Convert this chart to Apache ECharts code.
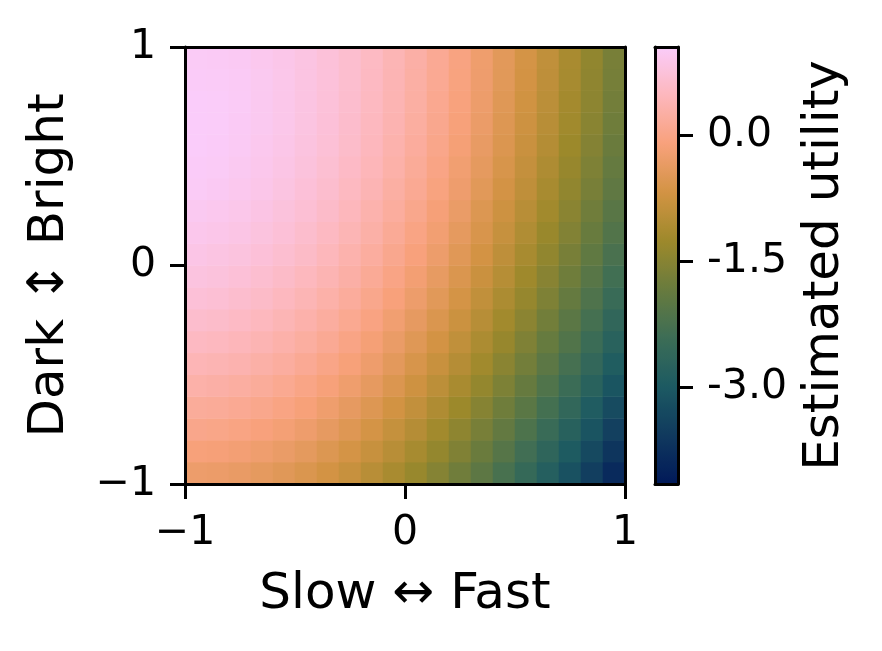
<!DOCTYPE html>
<html>
<head>
<meta charset="utf-8">
<script src="https://cdn.jsdelivr.net/npm/echarts@6/dist/echarts.min.js"></script>
<style>
html,body{margin:0;padding:0;background:#fff;}
#chart{width:882px;height:651px;}
</style>
</head>
<body>
<div id="chart"></div>
<script>
// Cell centres (speed on x, brightness on y)
const xCenters = [-0.95,-0.85,-0.75,-0.65,-0.55,-0.45,-0.35,-0.25,-0.15,-0.05,0.05,0.15,0.25,0.35,0.45,0.55,0.65,0.75,0.85,0.95];
const yCenters = [-0.95,-0.85,-0.75,-0.65,-0.55,-0.45,-0.35,-0.25,-0.15,-0.05,0.05,0.15,0.25,0.35,0.45,0.55,0.65,0.75,0.85,0.95];
// Estimated utility, one row per yCenter (bottom to top), one column per xCenter
const utility = [
  [-0.27,-0.29,-0.33,-0.39,-0.46,-0.56,-0.67,-0.80,-0.96,-1.13,-1.31,-1.52,-1.75,-1.99,-2.26,-2.54,-2.84,-3.16,-3.50,-3.86],
  [-0.11,-0.13,-0.17,-0.23,-0.31,-0.40,-0.52,-0.65,-0.80,-0.97,-1.15,-1.36,-1.58,-1.82,-2.08,-2.36,-2.65,-2.97,-3.30,-3.65],
  [0.04,0.02,-0.03,-0.09,-0.16,-0.26,-0.37,-0.50,-0.65,-0.82,-1.00,-1.20,-1.42,-1.66,-1.91,-2.19,-2.48,-2.78,-3.11,-3.45],
  [0.18,0.16,0.11,0.05,-0.03,-0.12,-0.24,-0.37,-0.51,-0.68,-0.86,-1.06,-1.27,-1.51,-1.76,-2.02,-2.31,-2.61,-2.93,-3.26],
  [0.31,0.28,0.24,0.18,0.10,0.00,-0.11,-0.24,-0.38,-0.55,-0.72,-0.92,-1.13,-1.36,-1.61,-1.87,-2.15,-2.44,-2.76,-3.08],
  [0.43,0.40,0.36,0.29,0.22,0.12,0.01,-0.12,-0.26,-0.42,-0.60,-0.79,-1.00,-1.22,-1.47,-1.72,-2.00,-2.29,-2.59,-2.92],
  [0.54,0.51,0.46,0.40,0.32,0.23,0.12,-0.01,-0.15,-0.31,-0.48,-0.67,-0.88,-1.10,-1.33,-1.59,-1.86,-2.14,-2.44,-2.76],
  [0.64,0.61,0.56,0.50,0.42,0.33,0.22,0.10,-0.04,-0.20,-0.37,-0.56,-0.76,-0.98,-1.21,-1.46,-1.73,-2.01,-2.30,-2.62],
  [0.73,0.70,0.65,0.59,0.51,0.42,0.31,0.19,0.05,-0.10,-0.27,-0.45,-0.65,-0.87,-1.10,-1.34,-1.60,-1.88,-2.17,-2.48],
  [0.81,0.78,0.73,0.67,0.59,0.50,0.40,0.28,0.14,-0.01,-0.18,-0.36,-0.56,-0.77,-0.99,-1.24,-1.49,-1.76,-2.05,-2.35],
  [0.87,0.84,0.80,0.74,0.67,0.58,0.47,0.35,0.22,0.07,-0.09,-0.27,-0.47,-0.67,-0.90,-1.14,-1.39,-1.66,-1.94,-2.24],
  [0.93,0.90,0.86,0.80,0.73,0.64,0.54,0.42,0.29,0.14,-0.02,-0.19,-0.39,-0.59,-0.81,-1.05,-1.30,-1.56,-1.84,-2.13],
  [0.98,0.95,0.91,0.85,0.78,0.70,0.60,0.48,0.35,0.21,0.05,-0.13,-0.31,-0.52,-0.73,-0.97,-1.21,-1.47,-1.75,-2.04],
  [1.02,0.99,0.95,0.90,0.83,0.74,0.65,0.53,0.41,0.26,0.11,-0.06,-0.25,-0.45,-0.66,-0.89,-1.14,-1.39,-1.67,-1.95],
  [1.04,1.02,0.98,0.93,0.86,0.78,0.69,0.57,0.45,0.31,0.16,-0.01,-0.20,-0.39,-0.60,-0.83,-1.07,-1.33,-1.60,-1.88],
  [1.06,1.04,1.00,0.95,0.89,0.81,0.72,0.61,0.49,0.35,0.20,0.03,-0.15,-0.34,-0.55,-0.78,-1.01,-1.27,-1.53,-1.82],
  [1.06,1.05,1.01,0.97,0.91,0.83,0.74,0.63,0.51,0.38,0.23,0.07,-0.11,-0.30,-0.51,-0.73,-0.97,-1.22,-1.48,-1.76],
  [1.06,1.05,1.02,0.97,0.91,0.84,0.75,0.65,0.53,0.40,0.26,0.09,-0.08,-0.27,-0.48,-0.70,-0.93,-1.18,-1.44,-1.72],
  [1.04,1.03,1.01,0.97,0.91,0.84,0.76,0.66,0.54,0.41,0.27,0.11,-0.06,-0.25,-0.45,-0.67,-0.90,-1.15,-1.41,-1.69],
  [1.02,1.01,0.99,0.95,0.90,0.84,0.75,0.66,0.55,0.42,0.28,0.12,-0.05,-0.24,-0.44,-0.65,-0.88,-1.13,-1.39,-1.66]
];
const axisTicks = [-1, 0, 1];
const colorbarTicks = [0, -1.5, -3.0];
const colorRange = [-4.16, 1.06];
const batlow = ['#011959','#10395E','#1C5A62','#3C6D56','#687B3E','#9D892B','#D29343','#F8A17B','#FDB7BC','#FACCFA'];

const heatData = [];
utility.forEach((row, j) => row.forEach((v, i) => heatData.push([i, j, v])));

const FONT = 'DejaVu Sans';
const lineStyle = { color: '#000', width: 3 };
const frameOnly = (extra) => Object.assign({
  show: true, z: 6,
  axisLine: { show: true, onZero: false, lineStyle: lineStyle },
  axisTick: { show: false }, axisLabel: { show: false }, splitLine: { show: false }
}, extra);
const fmtMinus = v => (v < 0 ? '\u2212' + Math.abs(v) : String(v));

const chart = echarts.init(document.getElementById('chart'), null, { renderer: 'canvas' });
chart.setOption({
  animation: false,
  backgroundColor: '#fff',
  textStyle: { fontFamily: FONT, color: '#000' },
  grid: [
    { left: 185, top: 47, width: 440, height: 437, outerBoundsMode: 'none' },
    { left: 655, top: 47, width: 23, height: 437, outerBoundsMode: 'none' }
  ],
  xAxis: [
    frameOnly({ type: 'category', gridIndex: 0, position: 'top', data: xCenters, boundaryGap: true }),
    {
      type: 'value', gridIndex: 0, position: 'bottom', min: -1, max: 1, z: 6,
      axisLine: { show: true, onZero: false, lineStyle: lineStyle },
      axisTick: { show: true, length: 15, lineStyle: lineStyle, customValues: axisTicks },
      axisLabel: { show: true, customValues: axisTicks, formatter: fmtMinus, fontSize: 41, fontFamily: FONT, color: '#000', margin: 29 },
      splitLine: { show: false },
      name: 'Slow \u2194 Fast', nameLocation: 'middle', nameGap: 86,
      nameTextStyle: { fontSize: 50, fontFamily: FONT, color: '#000' }
    },
    frameOnly({ type: 'value', gridIndex: 1, position: 'bottom', min: 0, max: 1 }),
    frameOnly({ type: 'value', gridIndex: 1, position: 'top', min: 0, max: 1 })
  ],
  yAxis: [
    frameOnly({ type: 'category', gridIndex: 0, position: 'right', data: yCenters, boundaryGap: true }),
    {
      type: 'value', gridIndex: 0, position: 'left', min: -1, max: 1, z: 6,
      axisLine: { show: true, onZero: false, lineStyle: lineStyle },
      axisTick: { show: true, length: 15, lineStyle: lineStyle, customValues: axisTicks },
      axisLabel: { show: true, customValues: axisTicks, formatter: fmtMinus, fontSize: 41, fontFamily: FONT, color: '#000', margin: 29 },
      splitLine: { show: false },
      name: 'Dark \u2195 Bright', nameLocation: 'middle', nameGap: 110, nameRotate: 90,
      nameTextStyle: { fontSize: 50, fontFamily: FONT, color: '#000' }
    },
    {
      type: 'value', gridIndex: 1, position: 'right', min: colorRange[0], max: colorRange[1], z: 6,
      axisLine: { show: true, onZero: false, lineStyle: lineStyle },
      axisTick: { show: true, length: 15, lineStyle: lineStyle, customValues: colorbarTicks },
      axisLabel: { show: true, customValues: colorbarTicks, formatter: v => v.toFixed(1), fontSize: 41, fontFamily: FONT, color: '#000', margin: 29 },
      splitLine: { show: false },
      name: 'Estimated utility', nameLocation: 'middle', nameGap: 122, nameRotate: 90,
      nameTextStyle: { fontSize: 50, fontFamily: FONT, color: '#000' }
    },
    frameOnly({ type: 'value', gridIndex: 1, position: 'left', min: colorRange[0], max: colorRange[1] })
  ],
  visualMap: {
    type: 'continuous', seriesIndex: 0, min: colorRange[0], max: colorRange[1],
    calculable: false, orient: 'vertical', left: 655, top: 47,
    itemWidth: 23, itemHeight: 437, padding: 0, z: 4,
    inRange: { color: batlow }, hoverLink: false
  },
  series: [{
    type: 'heatmap', xAxisIndex: 0, yAxisIndex: 0, data: heatData,
    itemStyle: { borderWidth: 0 }, emphasis: { disabled: true }, progressive: 0
  }]
});
</script>
</body>
</html>
